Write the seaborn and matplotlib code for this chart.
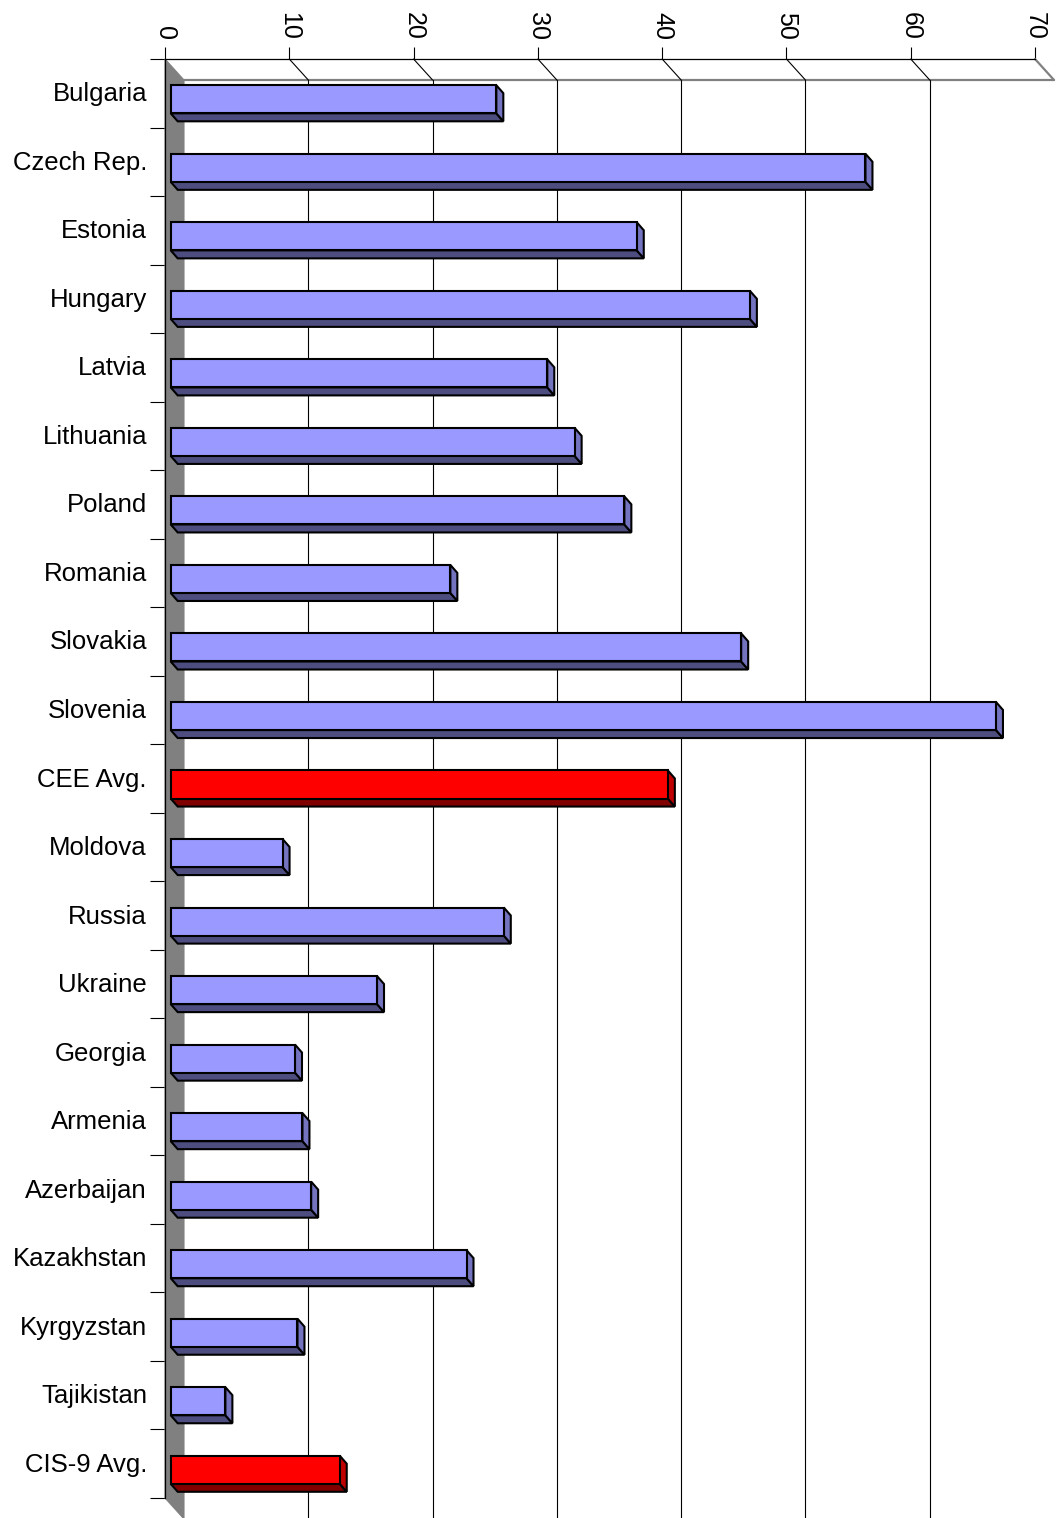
import matplotlib
matplotlib.use("Agg")
import matplotlib.pyplot as plt
import seaborn as sns
import numpy as np
import pandas as pd
from matplotlib.transforms import ScaledTranslation, IdentityTransform
from matplotlib.patches import Polygon
from matplotlib.lines import Line2D

# ---------------- data ----------------
categories = ["Bulgaria", "Czech Rep.", "Estonia", "Hungary", "Latvia", "Lithuania",
              "Poland", "Romania", "Slovakia", "Slovenia", "CEE Avg.", "Moldova",
              "Russia", "Ukraine", "Georgia", "Armenia", "Azerbaijan", "Kazakhstan",
              "Kyrgyzstan", "Tajikistan", "CIS-9 Avg."]
values = [26.2, 55.9, 37.5, 46.6, 30.3, 32.5, 36.5, 22.5, 45.9, 66.4, 40.0,
          9.0, 26.8, 16.6, 10.0, 10.6, 11.3, 23.8, 10.2, 4.4, 13.6]
average_labels = ["CEE Avg.", "CIS-9 Avg."]
x_ticks = [0, 10, 20, 30, 40, 50, 60, 70]

# ---------------- style ----------------
sns.set_theme(style="white")
plt.rcParams["font.family"] = ["Liberation Sans", "DejaVu Sans"]

W, H, DPI = 1056, 1518, 100
fig = plt.figure(figsize=(W / DPI, H / DPI), dpi=DPI)
fig.patch.set_facecolor("white")

X0, X1 = 165, 1035     # pixel of x=0 and x=70 on front plane
Y0, Y1 = 59, 1498      # pixel top / bottom of front plane
ax = fig.add_axes([X0 / W, (H - Y1) / H, (X1 - X0) / W, (Y1 - Y0) / H])
ax.patch.set_visible(False)

FACE = {"country": "#9999FF", "avg": "#FF0000"}
BOTTOM = {"#9999ff": "#4D4D80", "#ff0000": "#800000"}
SIDE = {"#9999ff": "#7373BF", "#ff0000": "#C00000"}

df = pd.DataFrame({"Country": categories, "Value": values})
df["Group"] = ["avg" if c in average_labels else "country" for c in categories]

sns.barplot(data=df, x="Value", y="Country", hue="Group", palette=FACE,
            dodge=False, width=0.41, legend=False, saturation=1,
            edgecolor="black", linewidth=1.5, orient="h", ax=ax, zorder=5)

ax.set_xlim(0, 70)
ax.set_ylim(len(categories) - 0.5, -0.5)
ax.set_autoscale_on(False)
ax.set_xlabel("")
ax.set_ylabel("")


def shift(dx, dy):
    return ScaledTranslation(dx / DPI, -dy / DPI, fig.dpi_scale_trans)


FDX, FDY = 5.7, 6.0    # depth of bar front face
BDX, BDY = 7.0, 8.0    # bar depth
WDX, WDY = 19.0, 21.0  # wall depth

# ---------------- wall (floor) ----------------
ft = ax.transAxes.transform((0, 1))
fb = ax.transAxes.transform((0, 0))
wall = Polygon([ft, ft + (WDX, -WDY), fb + (WDX, -WDY), fb], closed=True,
               facecolor="#808080", edgecolor="#808080", lw=0.8,
               transform=IdentityTransform(), zorder=1, clip_on=False)
ax.add_patch(wall)

# back-plane top line and right diagonal
back_tr = ax.transAxes + shift(WDX, WDY)
ax.plot([0, 1], [1, 1], transform=back_tr, color="#808080", lw=1.6,
        clip_on=False, zorder=1.5)
fr = ax.transAxes.transform((1, 1))
ax.add_line(Line2D([fr[0], fr[0] + WDX], [fr[1], fr[1] - WDY], color="#808080",
                   lw=1.6, transform=IdentityTransform(), clip_on=False, zorder=1.5))

# gridlines on back plane plus diagonals from front ticks
xa = ax.get_xaxis_transform()
for v in x_ticks[1:-1]:
    p = xa.transform((v, 1))
    ax.add_line(Line2D([p[0], p[0] + WDX], [p[1], p[1] - WDY], color="black",
                       lw=0.8, transform=IdentityTransform(), clip_on=False, zorder=1.5))
    ax.plot([v, v], [0, 1], transform=xa + shift(WDX, WDY), color="black",
            lw=0.8, clip_on=False, zorder=1.5)

# ---------------- 3D bars ----------------
bar_tr = ax.transData + shift(FDX, FDY)
for p in list(ax.patches):
    if not hasattr(p, "get_width") or p is wall:
        continue
    p.set_transform(bar_tr)
    p.set_clip_on(False)
    x0, y0, w, h = p.get_x(), p.get_y(), p.get_width(), p.get_height()
    if w <= 0:
        continue
    c = bar_tr.transform([(x0, y0), (x0 + w, y0 + h)])
    xl, xr = sorted([c[0][0], c[1][0]])
    yb, yt = sorted([c[0][1], c[1][1]])
    key = matplotlib.colors.to_hex(p.get_facecolor()).lower()
    bottom = Polygon([(xl, yb), (xr, yb), (xr + BDX, yb - BDY), (xl + BDX, yb - BDY)],
                     closed=True, facecolor=BOTTOM.get(key, "#4D4D80"),
                     edgecolor="black", lw=1.5, transform=IdentityTransform(),
                     zorder=4, clip_on=False)
    side = Polygon([(xr, yt), (xr + BDX, yt - BDY), (xr + BDX, yb - BDY), (xr, yb)],
                   closed=True, facecolor=SIDE.get(key, "#7373BF"),
                   edgecolor="black", lw=1.5, transform=IdentityTransform(),
                   zorder=4, clip_on=False)
    ax.add_patch(bottom)
    ax.add_patch(side)

# ---------------- spines & ticks ----------------
for s in ["right", "bottom"]:
    ax.spines[s].set_visible(False)
for s in ["left", "top"]:
    ax.spines[s].set_color("black")
    ax.spines[s].set_linewidth(0.9)
    ax.spines[s].set_zorder(3)

ax.xaxis.tick_top()
ax.set_xticks(x_ticks)
ax.set_xticklabels([str(t) for t in x_ticks], rotation=-90)
ax.tick_params(axis="x", which="major", top=True, bottom=False, labeltop=True,
               labelbottom=False, length=8.6, width=0.8, direction="out",
               pad=5.0, labelsize=18, colors="black")

n = len(categories)
ax.set_yticks(np.arange(-0.5, n, 1.0))
ax.set_yticklabels([])
ax.set_yticks(np.arange(n), minor=True)
ax.set_yticklabels(categories, minor=True)
ax.tick_params(axis="y", which="major", left=True, length=10.8, width=0.8,
               direction="out", colors="black")
ax.tick_params(axis="y", which="minor", left=True, length=0, pad=13.0,
               labelsize=18.5, labelcolor="black")
for lbl in ax.get_yticklabels(minor=True):
    lbl.set_y(lbl.get_position()[1])
    lbl.set_transform(lbl.get_transform() + shift(0, -1.5))
ax.grid(False)

fig.savefig("out.png", dpi=DPI, facecolor="white")
